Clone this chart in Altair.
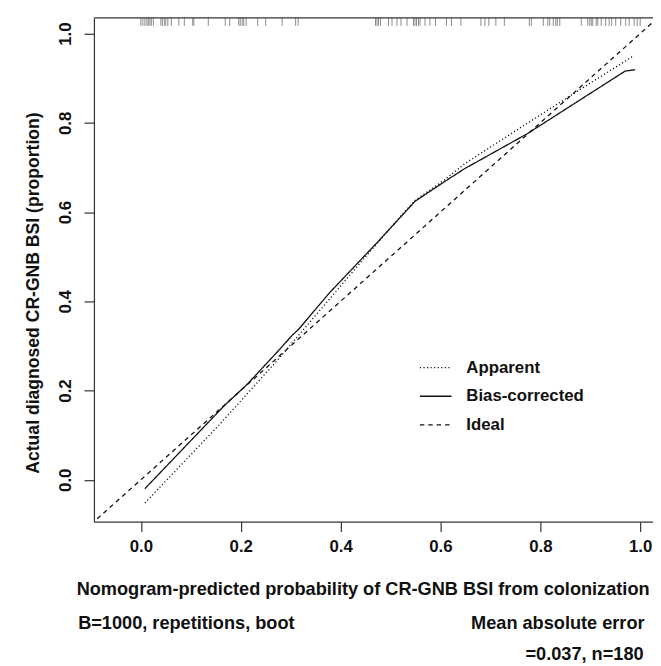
import altair as alt
import pandas as pd

FONT = "Liberation Sans"

# Apparent calibration curve (dotted)
app_x = [0.008, 0.156, 0.272, 0.377, 0.450, 0.523, 0.549, 0.608, 0.648, 0.760, 0.869, 0.988]
app_y = [-0.052, 0.122, 0.266, 0.404, 0.500, 0.594, 0.626, 0.672, 0.708, 0.789, 0.867, 0.951]

# Bias-corrected calibration curve (solid)
bc_x = [0.008, 0.167, 0.213, 0.272, 0.304, 0.315, 0.377, 0.476, 0.549, 0.608, 0.648, 0.773, 0.970, 0.990]
bc_y = [-0.020, 0.166, 0.214, 0.285, 0.325, 0.336, 0.418, 0.535, 0.624, 0.668, 0.697, 0.775, 0.916, 0.919]

# Ideal line (dashed)
ideal_x = [-0.1, 1.1]
ideal_y = [-0.1, 1.1]

# Rug of predicted probabilities (top)
rug = [0.000, 0.004, 0.008, 0.012, 0.015, 0.018, 0.021, 0.025, 0.040, 0.043, 0.047, 0.050,
       0.054, 0.061, 0.076, 0.087, 0.104, 0.106, 0.135, 0.169, 0.178, 0.196, 0.199, 0.203,
       0.206, 0.211, 0.234, 0.250, 0.283, 0.310, 0.315,
       0.470, 0.473, 0.476, 0.480, 0.496, 0.503, 0.513, 0.521, 0.533, 0.546, 0.549, 0.552,
       0.556, 0.559, 0.569, 0.579, 0.590, 0.612, 0.622, 0.641, 0.681, 0.689, 0.697, 0.711,
       0.728, 0.778, 0.782, 0.806, 0.815, 0.819, 0.826, 0.831, 0.834, 0.839, 0.882, 0.895,
       0.899, 0.902, 0.905, 0.912, 0.915, 0.922, 0.931, 0.938, 0.943, 0.951, 0.961, 0.971,
       0.978, 0.988, 0.994, 1.000]

series_names = ["Apparent", "Bias-corrected", "Ideal"]
x_ticks = [0.0, 0.2, 0.4, 0.6, 0.8, 1.0]
y_ticks = [0.0, 0.2, 0.4, 0.6, 0.8, 1.0]

x_title = "Nomogram-predicted probability of CR-GNB BSI from colonization"
y_title = "Actual diagnosed CR-GNB BSI (proportion)"
note_left = "B=1000, repetitions, boot"
note_right1 = "Mean absolute error"
note_right2 = "=0.037, n=180"

rows = []
for i, (x, y) in enumerate(zip(app_x, app_y)):
    rows.append({"series": "Apparent", "x": x, "y": y, "o": i})
for i, (x, y) in enumerate(zip(bc_x, bc_y)):
    rows.append({"series": "Bias-corrected", "x": x, "y": y, "o": i})
for i, (x, y) in enumerate(zip(ideal_x, ideal_y)):
    rows.append({"series": "Ideal", "x": x, "y": y, "o": i})
lines_df = pd.DataFrame(rows)
rug_df = pd.DataFrame({"p": rug})

W, H = 566, 510
XDOM = [-0.094, 1.0257]
YDOM = [-0.094, 1.035]

x_scale = alt.Scale(domain=XDOM, nice=False, zero=False)
y_scale = alt.Scale(domain=YDOM, nice=False, zero=False)

x_axis = alt.Axis(
    values=x_ticks, format=".1f", grid=False, tickSize=10, tickWidth=1.2,
    tickColor="#333", domainColor="#333", domainWidth=1.2,
    labelPadding=7, labelFont=FONT, labelFontSize=17, labelFontWeight="bold",
    labelColor="#111", labelFlush=False, labelOverlap=False,
    title=x_title, titleFont=FONT, titleFontSize=18.4, titleFontWeight="bold",
    titleColor="#111", titleX=272, titleY=74, titleAlign="center",
    titleBaseline="alphabetic", titleAnchor="start",
)
y_axis = alt.Axis(
    values=y_ticks, format=".1f", grid=False, tickSize=10, tickWidth=1.2,
    tickColor="#333", domainColor="#333", domainWidth=1.2,
    labelAngle=270, labelAlign="center", labelBaseline="alphabetic",
    labelPadding=14, labelFont=FONT, labelFontSize=17, labelFontWeight="bold",
    labelColor="#111", labelFlush=False, labelOverlap=False,
    title=y_title, titleFont=FONT, titleFontSize=17.8, titleFontWeight="bold",
    titleColor="#111", titleAngle=270, titleX=-56, titleY=278,
    titleAlign="center", titleBaseline="alphabetic", titleAnchor="start",
)

legend = alt.Legend(
    title=None, orient="none", legendX=337, legendY=345,
    symbolType="M-2,0H2", symbolSize=256, symbolStrokeWidth=1.3,
    symbolStrokeColor="#111", symbolFillColor="transparent",
    labelFont=FONT, labelFontSize=17, labelFontWeight="bold", labelColor="#111",
    labelOffset=22, rowPadding=12, padding=0,
)

lines = alt.Chart(lines_df).mark_line(clip=True, strokeWidth=1.3, color="#111").encode(
    x=alt.X("x:Q", scale=x_scale, axis=x_axis),
    y=alt.Y("y:Q", scale=y_scale, axis=y_axis),
    strokeDash=alt.StrokeDash(
        "series:N",
        scale=alt.Scale(domain=series_names, range=[[1.2, 2.4], [1, 0], [4.5, 4]]),
        legend=legend,
    ),
    order="o:Q",
)

rug_marks = alt.Chart(rug_df).mark_rule(color="#8a8a8a", strokeWidth=1).encode(
    x=alt.X("p:Q", scale=x_scale),
    y=alt.value(0),
    y2=alt.value(8),
)

top_border = alt.Chart(pd.DataFrame({"a": [0]})).mark_rule(color="#333", strokeWidth=1.2).encode(
    x=alt.value(0), x2=alt.value(W), y=alt.value(0)
)

def note(text, xpx, ypx, align):
    return alt.Chart(pd.DataFrame({"t": [text]})).mark_text(
        font=FONT, fontSize=18.4, fontWeight="bold", color="#111",
        align=align, baseline="alphabetic",
    ).encode(text="t:N", x=alt.value(xpx), y=alt.value(ypx))

notes = (
    note(note_left, -16, 618.5, "left")
    + note(note_right1, 557.5, 618.5, "right")
    + note(note_right2, 556.5, 650, "right")
)

chart = alt.layer(rug_marks, lines, top_border, notes).properties(
    width=W, height=H,
    autosize=alt.AutoSizeParams(type="none"),
    padding={"left": 87, "top": 6, "right": 0, "bottom": 142},
    background="white",
).configure_view(stroke=None)

chart.save("out.html", embed_options={"renderer": "svg", "actions": False})
